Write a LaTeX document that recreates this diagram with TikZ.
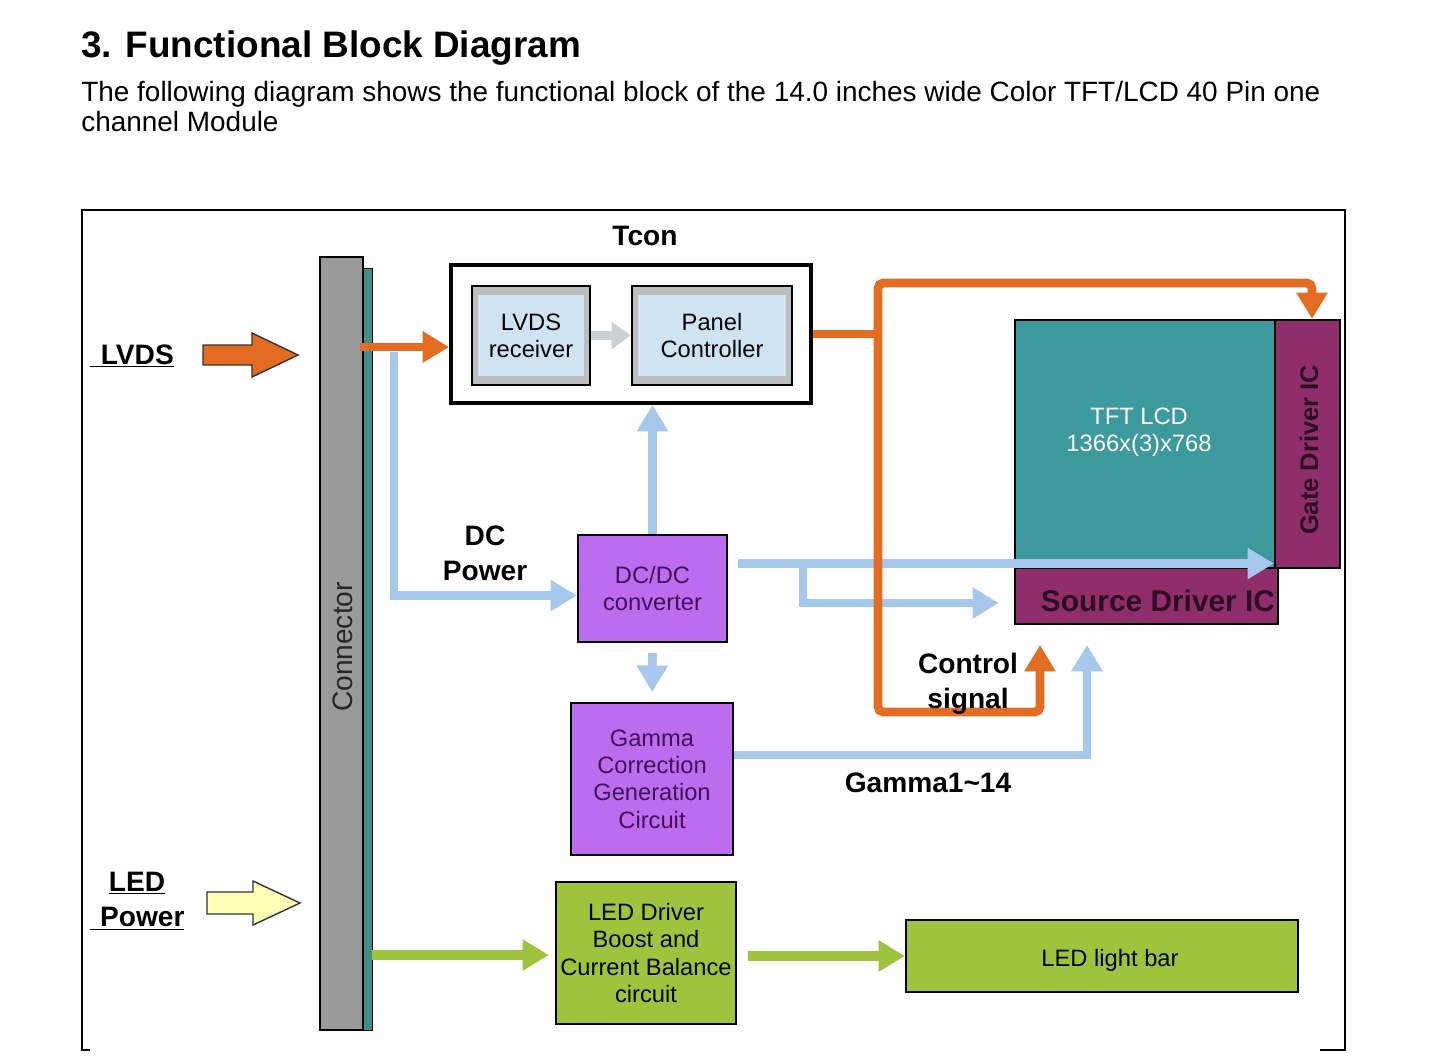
\documentclass[tikz,border=0pt]{standalone}
\usepackage{fontspec}
\setmainfont{Liberation Sans}
\usetikzlibrary{arrows.meta,positioning,calc}
\definecolor{SigOrange}{HTML}{E46C22}
\definecolor{PwrBlue}{HTML}{A6C8EC}
\definecolor{ChipPurple}{HTML}{BD6CF0}
\definecolor{InkPurple}{HTML}{3F0F55}
\definecolor{PanelTeal}{HTML}{3C9A9C}
\definecolor{DriverPlum}{HTML}{8F2E6B}
\definecolor{DriverInk}{HTML}{2D0B22}
\definecolor{LedGreen}{HTML}{9DC43C}
\definecolor{PaleYellow}{HTML}{FFFFB3}
\definecolor{BarGray}{HTML}{9A9A9A}
\definecolor{StripTeal}{HTML}{3E8F86}
\definecolor{RxGray}{HTML}{BDBDBD}
\definecolor{RxBlue}{HTML}{CFE4F2}
\definecolor{LinkGray}{HTML}{C9D0D6}
\newlength{\pix}\setlength{\pix}{0.02cm}

\begin{document}
\begin{tikzpicture}[x=0.02cm,y=-0.02cm,
  every node/.style={align=center,inner sep=0pt},
  box/.style={draw=black,line width=1.3pt,font=\fontsize{13.5}{15.5}\selectfont},
  rxbox/.style={box,fill=RxGray,path picture={\fill[RxBlue]
    ([xshift=6\pix,yshift=-9\pix]path picture bounding box.north west) rectangle
    ([xshift=-6\pix,yshift=9\pix]path picture bounding box.south east);}},
  lbl/.style={font=\fontsize{16}{20}\selectfont\bfseries},
  oline/.style={draw=SigOrange,line width=5pt,rounded corners=3pt},
  bline/.style={draw=PwrBlue,line width=5pt},
  gline/.style={draw=LedGreen,line width=5.5pt},
  flowtip/.style={-{Triangle[length=15pt,width=17pt]}},
  blockarrow/.style={draw=black!80,line width=0.8pt,line join=miter}]
  \useasboundingbox (0,0) rectangle (1442,1062);
  \node[font=\fontsize{21}{25}\selectfont\bfseries,anchor=base west] (title) at (81,57) {3. Functional Block Diagram};
  \node[font=\fontsize{15.9}{18}\selectfont,anchor=base west] (intro) at (81,101)
    {The following diagram shows the functional block of the 14.0 inches wide Color TFT/LCD 40 Pin one};
  \node[font=\fontsize{15.9}{18}\selectfont,anchor=base west] (intro2) at (81,131) {channel Module};
  \draw[line width=1.2pt] (90,1050) -- (82,1050) -- (82,210) -- (1345,210) -- (1345,1050) -- (1320,1050);

  \node[draw=black,line width=1pt,fill=BarGray,minimum width=43\pix,minimum height=773\pix] (conn) at (341.5,643.5) {};
  \node[draw=black,line width=0.8pt,fill=StripTeal,minimum width=9\pix,minimum height=762\pix,anchor=north west] (strip) at (363,268) {};
  \node[rotate=90,font=\fontsize{16}{19}\selectfont,text=black!85] (connlbl) at (343,647) {Connector};

  \node[lbl,anchor=base west] (lvdslbl) at (90,364) {\underline{\hspace{6pt}LVDS}};
  \coordinate (lvdsarr) at (203,355);
  \draw[blockarrow,fill=SigOrange] (lvdsarr) ++(0,-10) -- ++(49,0) -- ++(0,-12) -- ++(46,22)
    -- ++(-46,22) -- ++(0,-12) -- ++(-49,0) -- cycle;
  \node[lbl] (ledlbl) at (137,901) {\underline{LED}\\\underline{\hspace{6pt}Power}};
  \coordinate (ledarr) at (207,903);
  \draw[blockarrow,fill=PaleYellow] (ledarr) ++(0,-11) -- ++(46,0) -- ++(0,-11) -- ++(47,22)
    -- ++(-47,22) -- ++(0,-11) -- ++(-46,0) -- cycle;

  \node[draw=black,line width=2.2pt,minimum width=360\pix,minimum height=138\pix] (tcon) at (631,334) {};
  \node[lbl,anchor=base] (tconlbl) at (645,245) {Tcon};
  \node[rxbox,minimum width=118\pix,minimum height=99\pix] (lvdsrx) at (531,335.5) {LVDS\\receiver};
  \node[rxbox,minimum width=160\pix,minimum height=99\pix] (panel) at (712,335.5) {Panel\\Controller};
  \draw[draw=LinkGray,line width=5.5pt,-{Triangle[length=11pt,width=15pt]}] (lvdsrx) -- (panel);

  \node[box,fill=ChipPurple,text=InkPurple,minimum width=149\pix,minimum height=107\pix] (dcdc) at (652.5,588.5) {DC/DC\\converter};
  \node[box,fill=ChipPurple,text=InkPurple,minimum width=162\pix,minimum height=152\pix] (gamma) at (652,779) {Gamma\\Correction\\Generation\\Circuit};
  \node[box,fill=LedGreen,minimum width=180\pix,minimum height=142\pix] (leddrv) at (646,953) {LED Driver\\Boost and\\Current Balance\\circuit};
  \node[box,fill=LedGreen,minimum width=392\pix,minimum height=72\pix] (ledbar) at (1102,956) {};
  \node[font=\fontsize{13.5}{15.5}\selectfont] (ledbarlbl) at (1110,960) {LED light bar};

  \node[box,fill=PanelTeal,minimum width=260\pix,minimum height=248\pix] (tft) at (1145,444) {};
  \node[font=\fontsize{13.5}{15.5}\selectfont,text=white!92] (tftlbl) at (1139,432) {TFT LCD\\1366x(3)x768};
  \node[box,fill=DriverPlum,minimum width=65\pix,minimum height=248\pix] (gate) at (1307.5,444) {};
  \node[rotate=90,font=\fontsize{14.5}{17}\selectfont\bfseries,text=DriverInk] (gatelbl) at (1309,450) {Gate Driver IC};
  \node[box,fill=DriverPlum,minimum width=263\pix,minimum height=56\pix] (source) at (1146.5,596) {};
  \node[font=\fontsize{17}{20}\selectfont\bfseries,text=DriverInk] (sourcelbl) at (1158,601) {Source Driver IC};

  \coordinate (lvdsin) at (360,347);
  \draw[oline,flowtip] (lvdsin) -- (lvdsin -| tcon.west);
  \coordinate (dcin) at (394,352);
  \draw[bline,flowtip] (dcin) |- ([yshift=-7\pix]dcdc.west);
  \node[lbl] (dclbl) at (485,553) {DC\\Power};
  \draw[bline,flowtip] (dcdc.north) -- (dcdc.north |- tcon.south);
  \draw[bline,flowtip,shorten <=10\pix,shorten >=10\pix] (dcdc.south) -- (gamma.north);

  \coordinate (dcout) at ([yshift=25\pix]dcdc.east);
  \coordinate (dcfork) at (803,563);
  \draw[bline,flowtip,shorten <=10\pix] (dcout) -- (dcout -| gate.west);
  \draw[bline,flowtip,shorten >=15\pix] (dcfork) |- ([yshift=-7\pix]source.west);

  \coordinate (gamout) at ([yshift=24\pix]gamma.east);
  \coordinate (gamtip) at (1087,645);
  \draw[bline,flowtip] (gamout) -| (gamtip);
  \node[lbl] (gamlbl) at (928,783) {Gamma1\textasciitilde14};

  \coordinate (bus) at (878,334);
  \coordinate (gatefeed) at (1312,283);
  \coordinate (ctlturn) at (1040,712);
  \coordinate (ctltip) at (1040,645);
  \draw[oline] (tcon.east) -- (bus);
  \draw[oline,flowtip] (bus) |- (gatefeed) -- (gatefeed |- gate.north);
  \draw[oline,flowtip] (bus) |- (ctlturn) -- (ctltip);
  \node[lbl] (ctllbl) at (968,684) {Control\\signal};

  \coordinate (ledin) at (372,955);
  \draw[gline,flowtip,shorten >=6\pix] (ledin) -- (ledin -| leddrv.west);
  \draw[gline,flowtip,shorten <=11\pix] (leddrv.east |- ledbar.west) -- (ledbar.west);
\end{tikzpicture}
\end{document}
